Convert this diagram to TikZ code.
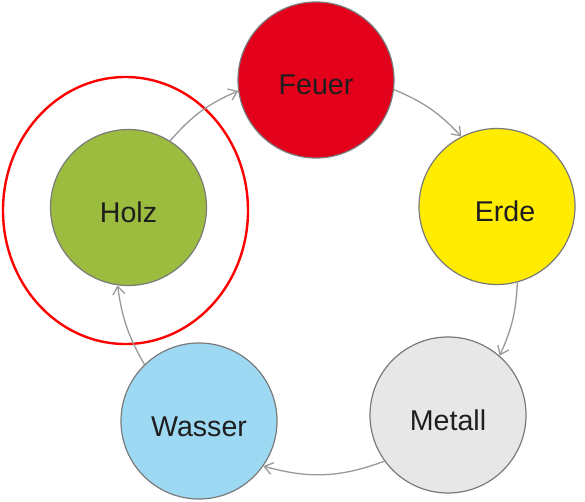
\documentclass[tikz,border=0pt]{standalone}
\usepackage{fontspec}
\setmainfont{Liberation Sans}
\usepackage{tikz}
\usetikzlibrary{arrows.meta}
\usetikzlibrary{shapes.geometric}
\definecolor{feuerRed}{HTML}{E2001A}
\definecolor{erdeYellow}{HTML}{FFEC00}
\definecolor{holzGreen}{HTML}{9BBC3F}
\definecolor{wasserBlue}{HTML}{9ED9F3}
\definecolor{metallGray}{HTML}{E7E7E7}
\definecolor{borderGray}{HTML}{7A7A7A}
\definecolor{arrowGray}{HTML}{999999}
\definecolor{labelBlack}{HTML}{1E1E1E}

\begin{document}
\begin{tikzpicture}[x = 1pt, y = -1pt,
                    font = \fontsize{28.6}{34}\selectfont,
                    elementCircle/.style = {draw = borderGray, line width = 1.2pt, circle, minimum size = 156pt,
                                            inner sep = 0pt, text = labelBlack, text height = 30pt, text depth = 0pt},
                    cycleArrow/.style = {draw = arrowGray, line width = 1.3pt,
                                         -{Straight Barb[length = 8pt, width = 12pt, line width = 1.3pt]}}]
    \useasboundingbox[fill = white] (0,0) rectangle (585,502);

    \node [elementCircle, fill = feuerRed]   (feuer)  at (316,80)      {Feuer};
    \node [elementCircle, fill = erdeYellow] (erde)   at (497,206.5)   {\hspace*{16pt}Erde};
    \node [elementCircle, fill = metallGray] (metall) at (448,415)     {Metall};
    \node [elementCircle, fill = wasserBlue] (wasser) at (199,421)     {Wasser};
    \node [elementCircle, fill = holzGreen]  (holz)   at (128.5,207.5) {Holz};

    \node [draw = red, line width = 2.4pt, ellipse, minimum width = 245pt, minimum height = 267pt,
           inner sep = 0pt] (focus) at (125.5,210.5) {};

    \draw [cycleArrow] (holz.58)    to [bend left = 13] (feuer.188);
    \draw [cycleArrow] (feuer.353)  to [bend left = 12] (erde.117);
    \draw [cycleArrow] (erde.285)   to [bend left = 11] (metall.49);
    \draw [cycleArrow] (metall.216) to [bend left = 18] (wasser.325);
    \draw [cycleArrow] (wasser.134) to [bend left = 11] (holz.262);
\end{tikzpicture}
\end{document}
